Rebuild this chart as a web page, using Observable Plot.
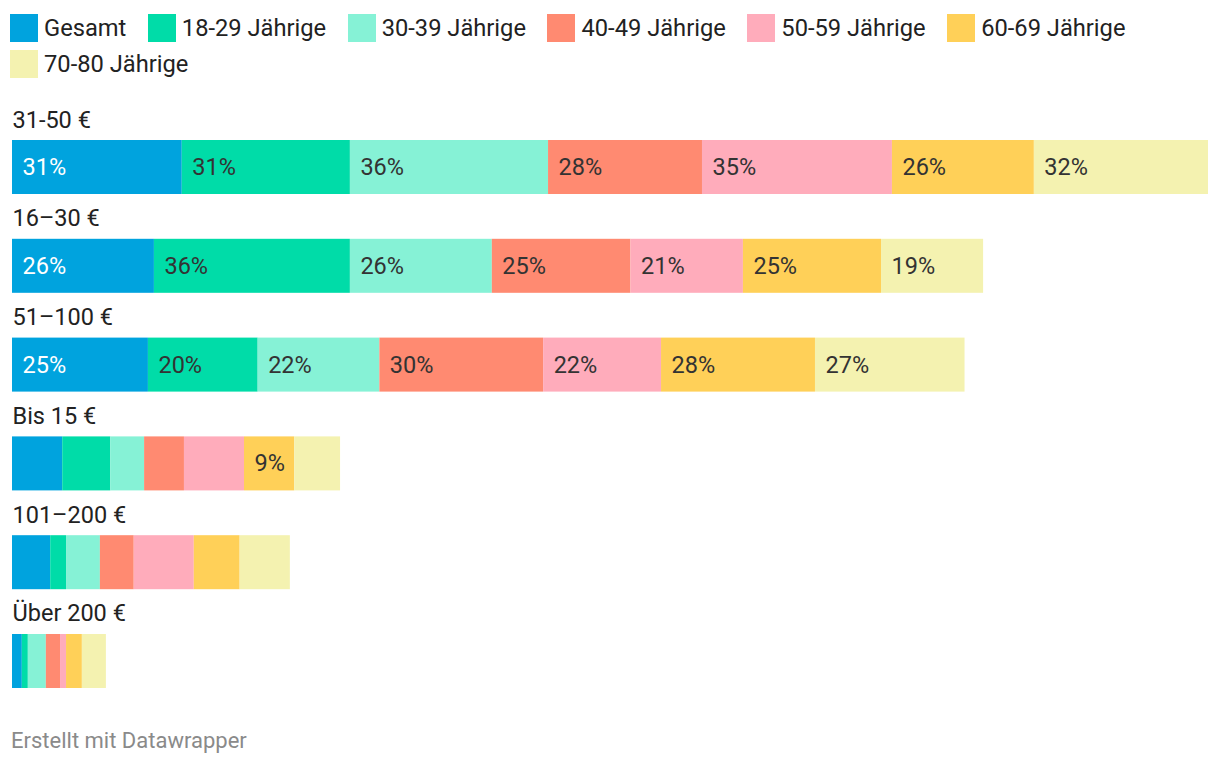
<!DOCTYPE html>
<html><head><meta charset="utf-8">
<script src="https://cdn.jsdelivr.net/npm/d3@7"></script>
<script src="https://cdn.jsdelivr.net/npm/@observablehq/plot@0.6"></script>
<style>
body{margin:0;background:#fff;font-family:Roboto, "Noto Sans", sans-serif;}
#legend{display:flex;flex-wrap:wrap;column-gap:21.5px;row-gap:8px;padding:14px 10px 0 10px;width:1220px;box-sizing:border-box}
.item{display:flex;align-items:center;height:28px;font-size:23.7px;color:#222;white-space:nowrap}
.sw{width:28px;height:28px;margin-right:6px;flex:none}
#chart{margin-top:12px;line-height:0}
#chart svg{display:block}
#caption{font-size:22px;color:#8a8a8a;margin:20px 0 0 11px}
</style>
</head><body>
<div id="legend"></div>
<div id="chart"></div>
<div id="caption">Erstellt mit Datawrapper</div>
<script>
const categories = ["31-50 €", "16–30 €", "51–100 €", "Bis 15 €", "101–200 €", "Über 200 €"];
const series = ["Gesamt", "18-29 Jährige", "30-39 Jährige", "40-49 Jährige", "50-59 Jährige", "60-69 Jährige", "70-80 Jährige"];
const colors = ["#00a3de", "#00dca8", "#86f2d6", "#ff8a71", "#ffacbb", "#ffd058", "#f4f2b0"];

const gesamt = [31.1, 26.0, 24.9, 9.2, 7.0, 1.8];
const j18_29 = [30.8, 35.9, 20.1, 8.8, 2.9, 1.1];
const j30_39 = [36.3, 26.0, 22.3, 6.2, 6.2, 3.3];
const j40_49 = [28.2, 25.4, 30.0, 7.3, 6.2, 2.6];
const j50_59 = [34.8, 20.6, 21.6, 11.0, 11.0, 1.1];
const j60_69 = [26.0, 25.3, 28.2, 9.2, 8.4, 2.9];
const j70_80 = [31.9, 18.7, 27.4, 8.4, 9.2, 4.4];

const labelThreshold = 15;
const extraLabels = [["Bis 15 €", "60-69 Jährige"]];

const seriesValues = [gesamt, j18_29, j30_39, j40_49, j50_59, j60_69, j70_80];
const data = [];
categories.forEach((cat, i) => {
  series.forEach((s, j) => {
    data.push({cat, series: s, value: seriesValues[j][i]});
  });
});
const isLabelled = d => d.value >= labelThreshold || extraLabels.some(([c, s]) => c === d.cat && s === d.series);
const fmt = d => Math.round(d.value) + "%";

// legend
const legend = document.getElementById("legend");
series.forEach((s, j) => {
  const item = document.createElement("div");
  item.className = "item";
  item.innerHTML = `<span class="sw" style="background:${colors[j]}"></span><span>${s}</span>`;
  legend.appendChild(item);
});

const chart = Plot.plot({
  width: 1220,
  height: 618,
  marginLeft: 12,
  marginRight: 12,
  marginTop: 50,
  marginBottom: 20,
  style: {fontFamily: "Roboto, 'Noto Sans', sans-serif", fontSize: "24px", background: "white"},
  x: {axis: null},
  y: {axis: null, domain: categories, paddingInner: 0.4534, paddingOuter: 0, round: false},
  color: {domain: series, range: colors},
  marks: [
    Plot.barX(data, Plot.stackX({x: "value", y: "cat", fill: "series"})),
    Plot.text(data, Plot.stackX1({
      x: "value", y: "cat",
      text: d => (d.series === "Gesamt" && isLabelled(d)) ? fmt(d) : "",
      fill: "white", textAnchor: "start", dx: 10, fontSize: 23.5
    })),
    Plot.text(data, Plot.stackX1({
      x: "value", y: "cat",
      text: d => (d.series !== "Gesamt" && isLabelled(d)) ? fmt(d) : "",
      fill: "#333", textAnchor: "start", dx: 10, fontSize: 23.5
    })),
    Plot.text(categories, {
      y: d => d, text: d => d, frameAnchor: "left",
      textAnchor: "start", lineAnchor: "bottom", dy: -40,
      fill: "#222", fontSize: 23.5
    })
  ]
});
document.getElementById("chart").appendChild(chart);
</script>
</body></html>
